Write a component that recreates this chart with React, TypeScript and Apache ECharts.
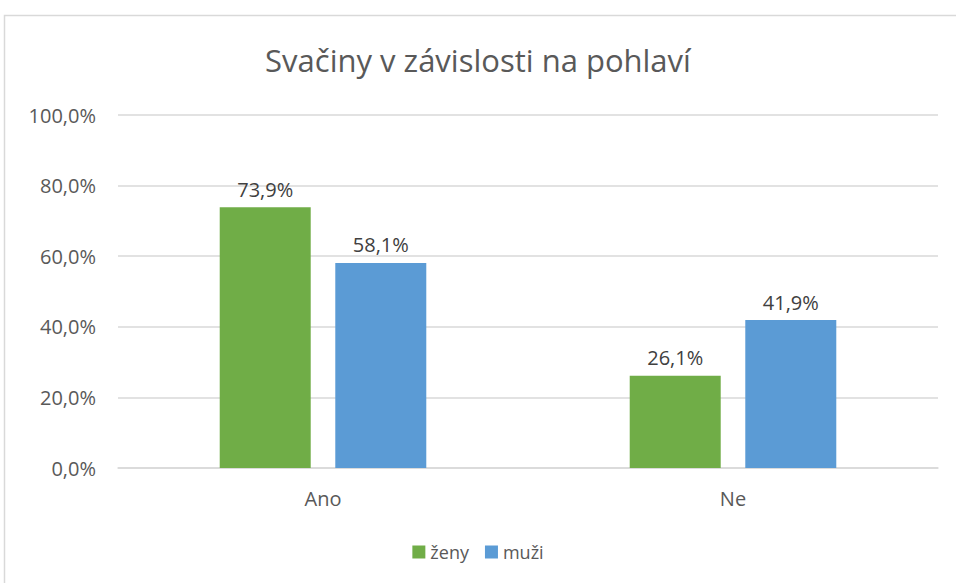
import React, { useEffect, useRef } from "react";
import * as echarts from "echarts";

const categories = ["Ano", "Ne"];
const zeny = [73.9, 26.1];
const muzi = [58.1, 41.9];
const seriesNames = ["ženy", "muži"];
const title = "Svačiny v závislosti na pohlaví";

const fmt = (v: number) => v.toFixed(1).replace(".", ",") + "%";
const FONT = "'Open Sans', 'Liberation Sans', sans-serif";

export default function App() {
  const ref = useRef<HTMLDivElement>(null);
  useEffect(() => {
    const chart = echarts.init(ref.current!, null, { renderer: "svg" });
    chart.setOption({
      animation: false,
      backgroundColor: "#ffffff",
      textStyle: { fontFamily: FONT },
      title: {
        text: title,
        left: "center",
        top: 39,
        textStyle: { fontSize: 31, fontWeight: "normal", color: "#595959", fontFamily: FONT },
      },
      graphic: [
        {
          type: "rect",
          shape: { x: 4.5, y: 15.5, width: 1000, height: 1000 },
          style: { fill: "none", stroke: "#d9d9d9", lineWidth: 1.5 },
          silent: true,
        },
      ],
      legend: {
        data: seriesNames,
        bottom: 17,
        left: "center",
        itemWidth: 13,
        itemHeight: 13,
        itemGap: 16,
        icon: "rect",
        textStyle: { fontSize: 18, color: "#595959", fontFamily: FONT },
      },
      grid: { left: 118, right: 18, top: 115, bottom: 115 },
      xAxis: {
        type: "category",
        data: categories,
        axisTick: { show: false },
        axisLine: { lineStyle: { color: "#d9d9d9", width: 1.5 } },
        axisLabel: { fontSize: 20, color: "#595959", margin: 20, fontFamily: FONT },
      },
      yAxis: {
        type: "value",
        min: 0,
        max: 100,
        interval: 20,
        axisLabel: {
          fontSize: 20,
          color: "#595959",
          margin: 22,
          fontFamily: FONT,
          formatter: (v: number) => fmt(v),
        },
        splitLine: { lineStyle: { color: "#d9d9d9", width: 1.5 } },
        axisLine: { show: false },
        axisTick: { show: false },
      },
      series: [
        {
          name: seriesNames[0],
          type: "bar",
          data: zeny,
          barWidth: 91,
          barGap: "27%",
          itemStyle: { color: "#70ad47" },
          label: {
            show: true,
            position: "top",
            distance: 8,
            fontSize: 20,
            color: "#404040",
            fontFamily: FONT,
            formatter: (p: any) => fmt(p.value),
          },
        },
        {
          name: seriesNames[1],
          type: "bar",
          data: muzi,
          barWidth: 91,
          barGap: "27%",
          itemStyle: { color: "#5b9bd5" },
          label: {
            show: true,
            position: "top",
            distance: 8,
            fontSize: 20,
            color: "#404040",
            fontFamily: FONT,
            formatter: (p: any) => fmt(p.value),
          },
        },
      ],
    });
    return () => chart.dispose();
  }, []);
  return (
    <div
      ref={ref}
      style={{ position: "fixed", left: 0, top: 0, width: 956, height: 583, background: "#fff" }}
    />
  );
}
